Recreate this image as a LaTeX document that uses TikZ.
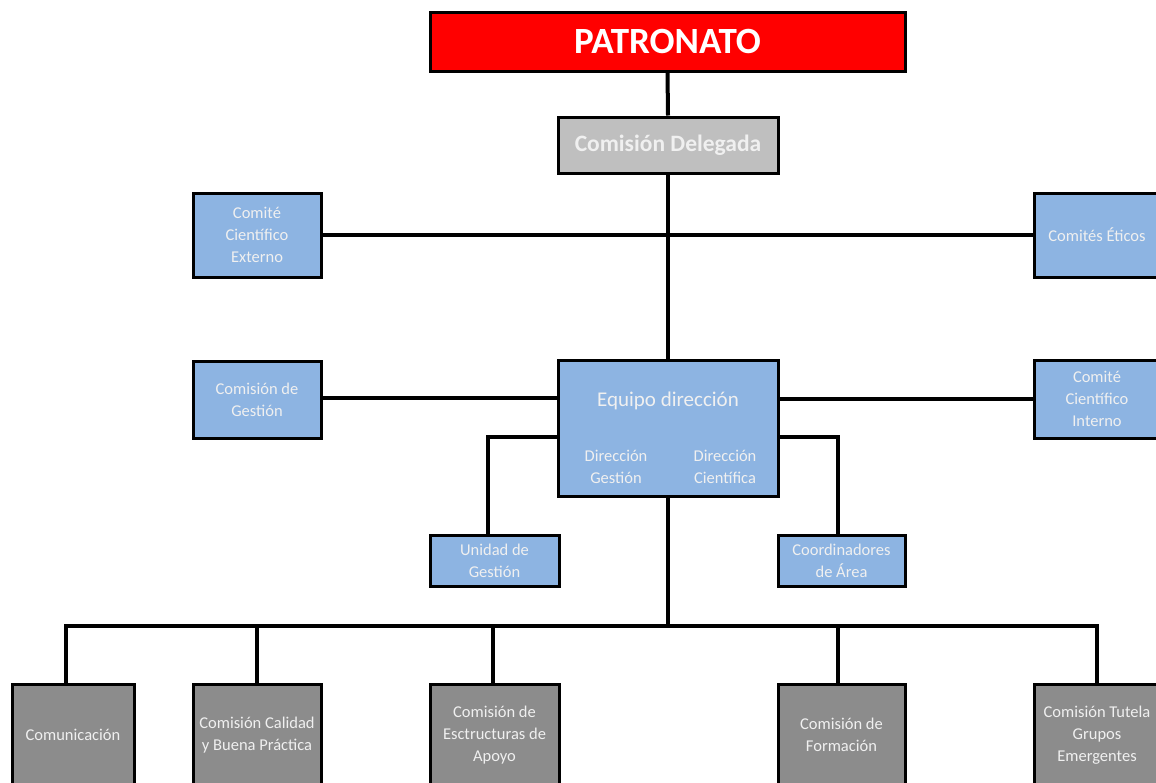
\documentclass[tikz,border=0pt]{standalone}
\usepackage{fontspec}
\setmainfont{Carlito}
\definecolor{cblue}{RGB}{141,180,226}
\definecolor{cgray}{RGB}{140,140,140}
\definecolor{clgray}{RGB}{191,191,191}
\definecolor{cred}{RGB}{255,0,0}
\definecolor{ctext}{RGB}{240,240,240}
\begin{document}
\begin{tikzpicture}[x=1pt,y=-1pt,
  box/.style={draw=black, line width=3pt, inner sep=0pt, align=center, text=ctext,
    font=\fontsize{16.5}{22}\selectfont},
  bluebox/.style={box, fill=cblue},
  graybox/.style={box, fill=cgray},
  conn/.style={line width=4pt, draw=black},
  lbl/.style={inner sep=0pt, align=center, text=ctext, font=\fontsize{16.5}{22}\selectfont}
]
\useasboundingbox (0,0) rectangle (1156,782);
\fill[white] (0,0) rectangle (1156,782);
\begin{scope}
\clip (0,0) rectangle (1156,782);
% nodes
\node[box, fill=cred, minimum width=475pt, minimum height=59pt, font=\fontsize{37}{40}\bfseries\selectfont, text=white] (pat) at (667.5,41.5) {PATRONATO};
\node[box, fill=clgray, minimum width=220pt, minimum height=56pt, font=\fontsize{23.5}{26}\bfseries\selectfont] (del) at (668,145) {Comisión Delegada};
\node[bluebox, minimum width=128pt, minimum height=84pt] (ext) at (257,235) {Comité\\Científico\\Externo};
\node[bluebox, minimum width=126pt, minimum height=84pt] (eti) at (1097,235) {Comités Éticos};
\node[bluebox, minimum width=128pt, minimum height=77pt] (ges) at (257,399.5) {Comisión de\\Gestión};
\node[bluebox, minimum width=220pt, minimum height=136pt] (eq) at (668,428) {};
\node[lbl, font=\fontsize{21}{24}\selectfont] (eqt) at (668,401) {Equipo dirección};
\node[lbl] (dg) at (616,467) {Dirección\\Gestión};
\node[lbl] (dc) at (725,467) {Dirección\\Científica};
\node[bluebox, minimum width=126pt, minimum height=78pt] (int) at (1097,399) {Comité\\Científico\\Interno};
\node[bluebox, minimum width=129pt, minimum height=51pt] (uni) at (494.5,560.5) {Unidad de\\Gestión};
\node[bluebox, minimum width=127pt, minimum height=51pt] (coo) at (841.5,560.5) {Coordinadores\\de Área};
\node[graybox, minimum width=122pt, minimum height=102pt] (com) at (73,735) {Comunicación};
\node[graybox, minimum width=128pt, minimum height=102pt] (cal) at (257,735) {Comisión Calidad\\y Buena Práctica};
\node[graybox, minimum width=129pt, minimum height=102pt] (est) at (494.5,735) {Comisión de\\Esctructuras de\\Apoyo};
\node[graybox, minimum width=127pt, minimum height=102pt] (for) at (841.5,735) {Comisión de\\Formación};
\node[graybox, minimum width=126pt, minimum height=102pt] (tut) at (1097,735) {Comisión Tutela\\Grupos\\Emergentes};
% connectors
\draw[conn] (pat.south) -- (del.north);
\draw[conn] (del.south) -- (eq.north);
\draw[conn] (ext.east) -- (eti.west);
\draw[conn] ([yshift=2pt]ges.east) -- ([yshift=2pt]ges.east -| eq.west);
\draw[conn] (int.west) -- (int.west -| eq.east);
\draw[conn] ([yshift=-9pt]eq.west) -| ([xshift=-7pt]uni.north);
\draw[conn] ([yshift=-9pt]eq.east) -| ([xshift=-3.5pt]coo.north);
\coordinate (bus) at (668,626);
\draw[conn] (eq.south) -- (bus);
\draw[conn, line cap=rect] ([xshift=-7pt]com.north) |- (bus) -| (tut.north);
\draw[conn] (cal.north) -- (cal.north |- bus);
\draw[conn] ([xshift=-1.5pt]est.north) -- ([xshift=-1.5pt]est.north |- bus);
\draw[conn] ([xshift=-3.5pt]for.north) -- ([xshift=-3.5pt]for.north |- bus);
\end{scope}
\end{tikzpicture}
\end{document}
